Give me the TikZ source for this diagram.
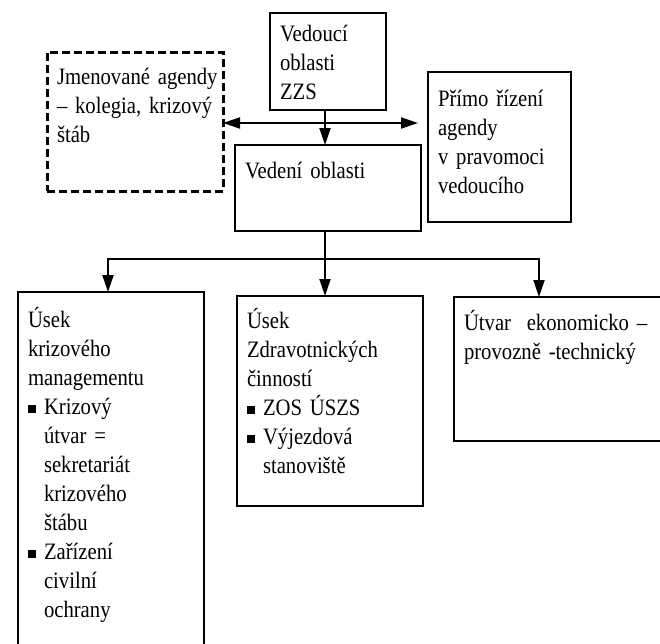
\documentclass[tikz,border=0pt]{standalone}
\usepackage{fontspec}
\setmainfont[FakeStretch=0.88]{Liberation Serif}
\usetikzlibrary{arrows.meta}
\tikzstyle{box} = [rectangle, draw, line width=2.4pt, outer sep=0pt,
                inner xsep=10pt, inner ysep=0pt, align=left, anchor=north west,
                font=\fontsize{23.5pt}{29pt}\selectfont]
\tikzstyle{dashbox} = [box, dash pattern=on 8pt off 4pt, line width=3pt]
\tikzstyle{line} = [draw, line width=2pt, -{Triangle[length=17pt,width=11pt]}]
\newcommand{\sqb}{\makebox[16pt][l]{\rule[1pt]{8pt}{8pt}}}
\newcommand{\ind}{\hspace*{16pt}}

\begin{document}
\begin{tikzpicture}[x=1pt,y=-1pt]
            \useasboundingbox (0,0) rectangle (660,643);
            \clip (0,0) rectangle (660,643);
            \node[box, text width=96pt, text height=28pt, text depth=69pt](vedouci) at (270,13){Vedoucí\\oblasti\\ZZS};
            \node[dashbox, text width=156pt, text height=32pt, text depth=107pt](jmenovane) at (47,52){Jmenované~agendy\\–~kolegia,~krizový\\štáb};
            \node[box, text width=123pt, text height=34pt, text depth=116pt](primo) at (428,72){Přímo~řízení\\agendy\\v~pravomoci\\vedoucího};
            \node[box, text width=166pt, text height=33pt, text depth=53pt](vedeni) at (235,145){Vedení oblasti};
            \node[box, text width=166pt, text height=35pt, text depth=333pt](usekkm) at (18,292){Úsek\\krizového\\managementu\\\sqb Krizový\\\ind útvar =\\\ind sekretariát\\\ind krizového\\\ind štábu\\\sqb Zařízení\\\ind civilní\\\ind ochrany};
            \node[box, text width=166pt, text height=32pt, text depth=178pt](usekzc) at (237,296){Úsek\\Zdravotnických\\činností\\\sqb ZOS~ÚSZS\\\sqb Výjezdová\\\ind stanoviště};
            \node[box, text width=200pt, text height=33pt, text depth=111pt](utvar) at (454,297){Útvar~~ekonomicko~–\\provozně~-technický};
            \coordinate (hub) at (325,123);
            \coordinate (rtip) at (418,123);
            \coordinate (split) at (325,259);
            \path[line] (vedouci.south -| hub) -- (vedeni.north -| hub);
            \path[line] (hub) -- (jmenovane.east |- hub);
            \path[line] (hub) -- (rtip);
            \draw[line width=2pt] (vedeni.south -| split) -- (split);
            \path[line] (split) -| ([xshift=-3pt]usekkm.north);
            \path[line] (split) -- (split |- usekzc.north);
            \path[line] (split) -| ([xshift=85pt]utvar.north west);
        \end{tikzpicture}
\end{document}
